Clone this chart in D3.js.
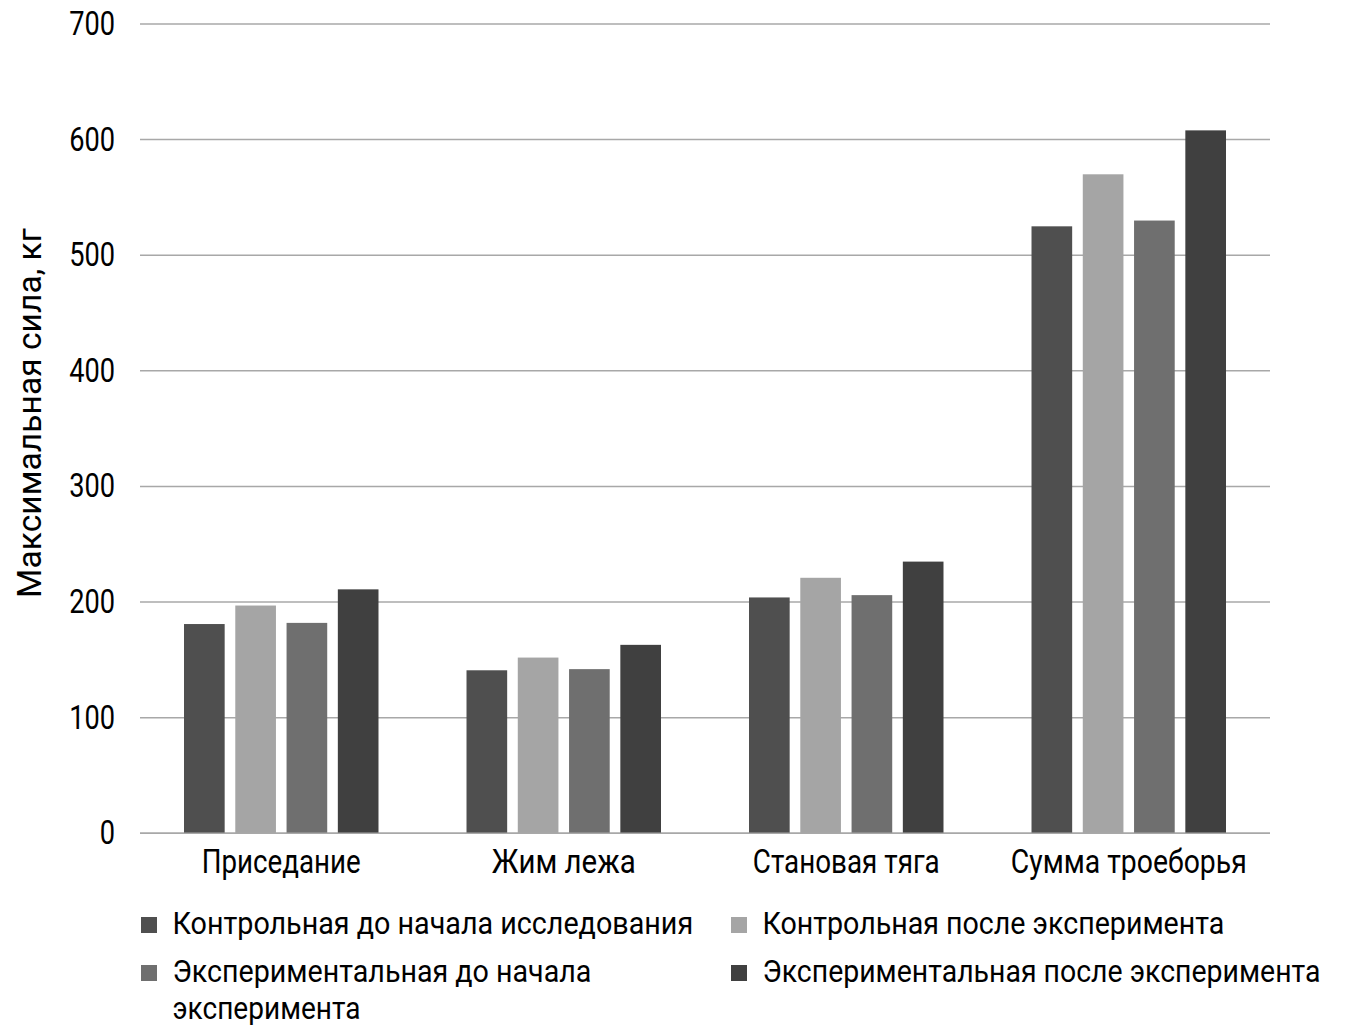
<!DOCTYPE html>
<html>
<head>
<meta charset="utf-8">
<script src="https://cdn.jsdelivr.net/npm/d3@7"></script>
<style>
  html, body { margin: 0; padding: 0; background: #ffffff; }
  svg text { font-family: "Roboto", "DejaVu Sans", sans-serif; fill: #000; }
</style>
</head>
<body>
<svg id="chart" width="1352" height="1034"></svg>
<script>
const categories = ["Приседание", "Жим лежа", "Становая тяга", "Сумма троеборья"];
const seriesNames = [
  "Контрольная до начала исследования",
  "Контрольная после эксперимента",
  "Экспериментальная до начала эксперимента",
  "Экспериментальная после эксперимента"
];
const controlBefore = [181, 141, 204, 525];
const controlAfter = [197, 152, 221, 570];
const experimentalBefore = [182, 142, 206, 530];
const experimentalAfter = [211, 163, 235, 608];
const yTicks = [0, 100, 200, 300, 400, 500, 600, 700];
const yTitle = "Максимальная сила, кг";

const seriesValues = [controlBefore, controlAfter, experimentalBefore, experimentalAfter];
const colors = ["#4f4f4f", "#a5a5a5", "#6f6f6f", "#404040"];

const svg = d3.select("#chart");
const plot = { left: 140, right: 1270, top: 24, bottom: 833.3 };

const y = d3.scaleLinear().domain([0, 700]).range([plot.bottom, plot.top]);
const x0 = d3.scaleBand().domain(categories).range([plot.left, plot.right]).paddingInner(0.274).paddingOuter(0.137);
const x1 = d3.scaleBand().domain(d3.range(seriesNames.length)).range([0, x0.bandwidth()]).paddingInner(0.207).paddingOuter(0.1035);

// condensed text helper: places text at (x,y) with horizontal squeeze to a target width
function fitText(parent, str, x, yy, size, width, anchor, rotate) {
  const t = parent.append("text")
    .attr("text-anchor", anchor)
    .style("font-size", size + "px")
    .text(str);
  const natural = t.node().getComputedTextLength();
  const sx = natural > 0 ? width / natural : 1;
  t.attr("transform", `translate(${x},${yy})${rotate ? " rotate(" + rotate + ")" : ""} scale(${sx},1)`);
  return t;
}

// gridlines
svg.append("g").selectAll("line").data(yTicks).join("line")
  .attr("x1", plot.left).attr("x2", plot.right)
  .attr("y1", d => y(d)).attr("y2", d => y(d))
  .attr("stroke", "#a8a8a8").attr("stroke-width", 1.5);

// tick labels
svg.append("g").selectAll("text").data(yTicks).join("text")
  .attr("transform", d => `translate(115,${y(d) + 11}) scale(0.8,1)`)
  .attr("text-anchor", "end")
  .style("font-size", "34px")
  .text(d => d);

// bars
const groups = svg.append("g").selectAll("g").data(categories).join("g")
  .attr("transform", c => `translate(${x0(c)},0)`);
groups.selectAll("rect")
  .data((c, ci) => seriesValues.map((vals, si) => ({ si, v: vals[ci] })))
  .join("rect")
  .attr("x", d => x1(d.si))
  .attr("width", x1.bandwidth())
  .attr("y", d => y(d.v))
  .attr("height", d => y(0) - y(d.v))
  .attr("fill", d => colors[d.si]);

// baseline
svg.append("line")
  .attr("x1", plot.left).attr("x2", plot.right)
  .attr("y1", y(0)).attr("y2", y(0))
  .attr("stroke", "#a8a8a8").attr("stroke-width", 1.5);

// category labels
const catWidths = [159, 144, 187, 236];
const catG = svg.append("g");
categories.forEach((c, i) => {
  fitText(catG, c, x0(c) + x0.bandwidth() / 2, 873, 33, catWidths[i], "middle");
});

// y title
fitText(svg, yTitle, 41, 413, 34, 370, "middle", -90);

// legend
const legendItems = [
  { si: 0, x: 141, y: 917, lines: [seriesNames[0]], widths: [521] },
  { si: 1, x: 731, y: 917, lines: [seriesNames[1]], widths: [462] },
  { si: 2, x: 141, y: 965, lines: ["Экспериментальная до начала", "эксперимента"], widths: [419, 188] },
  { si: 3, x: 731, y: 965, lines: [seriesNames[3]], widths: [558] }
];
const lg = svg.append("g").selectAll("g").data(legendItems).join("g")
  .attr("transform", d => `translate(${d.x},${d.y})`);
lg.append("rect").attr("width", 16).attr("height", 16).attr("fill", d => colors[d.si]);
lg.each(function(d) {
  const g = d3.select(this);
  d.lines.forEach((ln, i) => {
    fitText(g, ln, 31.5, 17 + i * 37, 31, d.widths[i], "start");
  });
});
</script>
</body>
</html>
